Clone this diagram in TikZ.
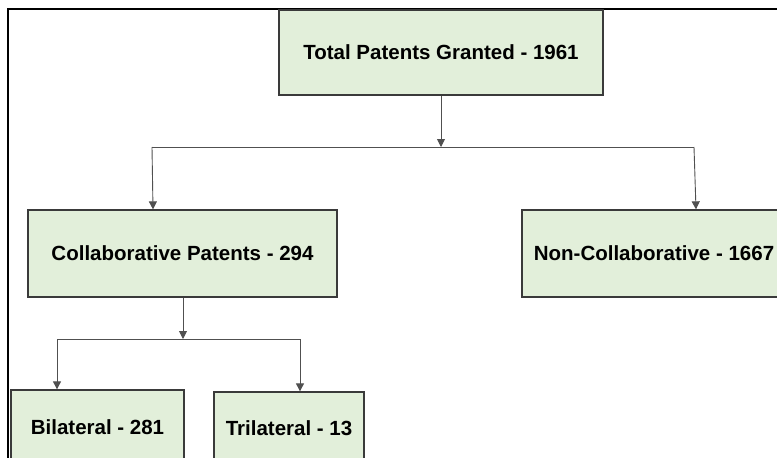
\documentclass[tikz,border=0pt]{standalone}
\usepackage{fontspec}
\setmainfont{Liberation Sans}
\usetikzlibrary{arrows.meta}
\definecolor{boxfill}{HTML}{E2EFDA}
\definecolor{boxline}{HTML}{3A3A3A}
\definecolor{conn}{HTML}{505050}
\begin{document}
\begin{tikzpicture}[x=1pt,y=1pt,
  catbox/.style={draw=boxline,line width=1.3pt,fill=boxfill,inner sep=0pt,
    font=\fontsize{20.5}{24}\selectfont\bfseries,text=black},
  link/.style={draw=conn,line width=0.9pt},
  arrowlink/.style={link,-{Triangle[width=8pt,length=8pt]}}]
\useasboundingbox (0,0) rectangle (777,-458);
\clip (0,0) rectangle (777,-458);
\fill[white] (0,0) rectangle (777,-458);
% frame
\draw[black,line width=2.4pt] (8,-470) -- (8,-9) -- (790,-9);
% nodes
\node[catbox,minimum width=324pt,minimum height=85pt] (total) at (441,-52.5) {Total Patents Granted - 1961};
\node[catbox,minimum width=309pt,minimum height=87pt] (collab) at (182.5,-253.5) {Collaborative Patents - 294};
\node[catbox,minimum width=264pt,minimum height=87pt] (noncollab) at (654,-253.5) {Non-Collaborative - 1667};
\node[catbox,minimum width=173pt,minimum height=74pt] (bilat) at (97.5,-427) {Bilateral - 281};
\node[catbox,minimum width=150pt,minimum height=72pt] (trilat) at (289,-428) {Trilateral - 13};
% junction coordinates
\coordinate (j1) at (441,-147);
\coordinate (j1l) at (152,-147);
\coordinate (j1r) at (694,-147);
\coordinate (j2) at (183,-339);
\coordinate (j2l) at (57,-339);
\coordinate (j2r) at (300,-339);
% connectors
\draw[link] (j1l) -- (j1r);
\draw[arrowlink] (total.south) -- (j1);
\draw[arrowlink] (j1l) -- (collab.north -| 153,0);
\draw[arrowlink] (j1r) -- (noncollab.north -| 696,0);
\draw[link] (j2l) -- (j2r);
\draw[arrowlink] (collab.south -| j2) -- (j2);
\draw[arrowlink] (j2l) -- (bilat.north -| j2l);
\draw[arrowlink] (j2r) -- (trilat.north -| j2r);
\end{tikzpicture}
\end{document}
